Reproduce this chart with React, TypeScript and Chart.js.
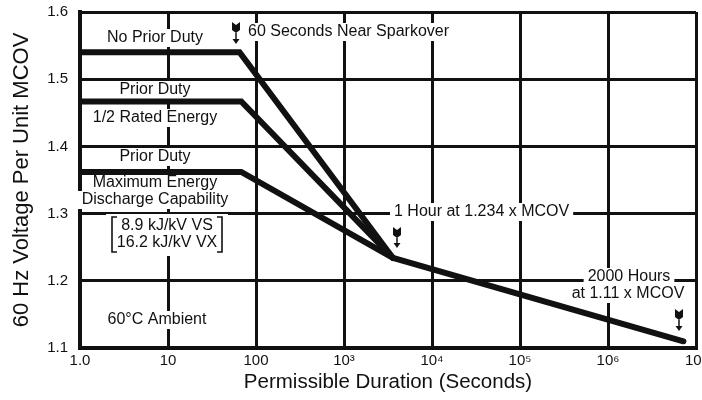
import React, { useEffect, useRef } from "react";
import { Chart, registerables } from "chart.js";

Chart.register(...registerables);

// ---- data ----
const xTickValues = [1, 10, 100, 1e3, 1e4, 1e5, 1e6, 1e7];
const xTickLabels = ["1.0", "10", "100", "10³", "10⁴", "10⁵", "10⁶", "10⁷"];
const yTickValues = [1.1, 1.2, 1.3, 1.4, 1.5, 1.6];
const yTickLabels = ["1.1", "1.2", "1.3", "1.4", "1.5", "1.6"];

const noPriorDutyX = [1, 65, 3600, 7.2e6];
const noPriorDutyY = [1.54, 1.54, 1.234, 1.11];
const halfRatedX = [1, 68, 3600];
const halfRatedY = [1.467, 1.467, 1.234];
const maxEnergyX = [1, 68, 3600];
const maxEnergyY = [1.362, 1.362, 1.234];

const FONT = "'Liberation Sans', Arial, Helvetica, sans-serif";

type Label = { text: string; x: number; y: number; align: CanvasTextAlign };
const labels: Label[] = [
  { text: "No Prior Duty", x: 155, y: 38, align: "center" },
  { text: "60 Seconds Near Sparkover", x: 248, y: 32, align: "left" },
  { text: "Prior Duty", x: 155, y: 90, align: "center" },
  { text: "1/2 Rated Energy", x: 155, y: 118, align: "center" },
  { text: "Prior Duty", x: 155, y: 157, align: "center" },
  { text: "Maximum Energy", x: 155, y: 183, align: "center" },
  { text: "Discharge Capability", x: 155, y: 200, align: "center" },
  { text: "8.9 kJ/kV VS", x: 167, y: 226, align: "center" },
  { text: "16.2 kJ/kV VX", x: 167, y: 243, align: "center" },
  { text: "60°C Ambient", x: 157, y: 320, align: "center" },
  { text: "1 Hour at 1.234 x MCOV", x: 394, y: 212, align: "left" },
  { text: "2000 Hours", x: 629, y: 277, align: "center" },
  { text: "at 1.11 x MCOV", x: 628, y: 294, align: "center" },
];
const arrows = [
  { x: 236, y0: 22, y1: 44 },
  { x: 397, y0: 227, y1: 248 },
  { x: 679, y0: 309, y1: 331 },
];

const toPoints = (xs: number[], ys: number[]) => xs.map((x, i) => ({ x, y: ys[i] }));

const annotationPlugin = {
  id: "annotations",
  beforeDatasetsDraw(chart: any) {
    const ctx: CanvasRenderingContext2D = chart.ctx;
    ctx.save();
    ctx.font = `16px ${FONT}`;
    ctx.textBaseline = "middle";
    // white boxes
    ctx.fillStyle = "#fff";
    for (const l of labels) {
      const w = ctx.measureText(l.text).width;
      let left = l.x - w / 2;
      if (l.align === "left") left = l.x;
      ctx.fillRect(left - 4, l.y - 9, w + 8, 18);
    }
    ctx.fillRect(106, 214, 122, 42);
    for (const a of arrows) ctx.fillRect(a.x - 6, a.y0 - 2, 12, a.y1 - a.y0 + 4);
    // text
    ctx.fillStyle = "#111";
    for (const l of labels) {
      ctx.textAlign = l.align;
      ctx.fillText(l.text, l.x, l.y);
    }
    // brackets
    ctx.strokeStyle = "#111";
    ctx.lineWidth = 1.6;
    ctx.beginPath();
    ctx.moveTo(117, 217); ctx.lineTo(112, 217); ctx.lineTo(112, 252); ctx.lineTo(117, 252);
    ctx.moveTo(217, 217); ctx.lineTo(222, 217); ctx.lineTo(222, 252); ctx.lineTo(217, 252);
    ctx.stroke();
    // arrow glyphs
    for (const a of arrows) {
      const { x, y0, y1 } = a;
      ctx.fillStyle = "#111";
      ctx.beginPath();
      ctx.moveTo(x - 4, y0);
      ctx.lineTo(x, y0 + 3);
      ctx.lineTo(x + 4, y0);
      ctx.lineTo(x + 4, y0 + 8);
      ctx.lineTo(x, y0 + 11);
      ctx.lineTo(x - 4, y0 + 8);
      ctx.closePath();
      ctx.fill();
      ctx.lineWidth = 1.5;
      ctx.beginPath();
      ctx.moveTo(x, y0 + 11);
      ctx.lineTo(x, y1 - 3);
      ctx.stroke();
      ctx.beginPath();
      ctx.moveTo(x - 3.5, y1 - 5);
      ctx.lineTo(x + 3.5, y1 - 5);
      ctx.lineTo(x, y1);
      ctx.closePath();
      ctx.fill();
    }
    ctx.restore();
  },
};

export default function App() {
  const ref = useRef<HTMLCanvasElement | null>(null);
  useEffect(() => {
    if (!ref.current) return;
    const lineStyle = {
      borderColor: "#111",
      backgroundColor: "#111",
      borderWidth: 6,
      pointRadius: 0,
      borderCapStyle: "round" as const,
      borderJoinStyle: "miter" as const,
      tension: 0,
      fill: false,
    };
    const chart = new Chart(ref.current, {
      type: "line",
      data: {
        datasets: [
          { label: "No Prior Duty", data: toPoints(noPriorDutyX, noPriorDutyY), ...lineStyle },
          { label: "Prior Duty 1/2 Rated Energy", data: toPoints(halfRatedX, halfRatedY), ...lineStyle },
          { label: "Prior Duty Maximum Energy", data: toPoints(maxEnergyX, maxEnergyY), ...lineStyle },
        ],
      },
      plugins: [annotationPlugin],
      options: {
        responsive: false,
        animation: false,
        devicePixelRatio: 1,
        layout: { padding: { top: 12, right: 6, left: 0, bottom: 0 } },
        plugins: { legend: { display: false }, tooltip: { enabled: false } },
        scales: {
          x: {
            type: "logarithmic",
            min: 1,
            max: 1e7,
            afterBuildTicks: (scale: any) => {
              scale.ticks = xTickValues.map((v) => ({ value: v }));
            },
            afterFit: (scale: any) => {
              scale.height = 52;
              scale.paddingLeft = 0;
              scale.paddingRight = 0;
            },
            ticks: {
              autoSkip: false,
              maxRotation: 0,
              padding: 4,
              color: "#111",
              font: { family: FONT, size: 15 },
              callback: (v: any) => {
                const i = xTickValues.indexOf(Number(v));
                return i >= 0 ? xTickLabels[i] : "";
              },
            },
            grid: { color: "#111", lineWidth: 3, drawTicks: false },
            border: { color: "#111", width: 4 },
            title: {
              display: true,
              text: "Permissible Duration (Seconds)",
              color: "#111",
              font: { family: FONT, size: 20.5 },
              padding: { top: 0, bottom: 5 },
            },
          },
          y: {
            type: "linear",
            min: 1.1,
            max: 1.6,
            afterBuildTicks: (scale: any) => {
              scale.ticks = yTickValues.map((v) => ({ value: v }));
            },
            afterFit: (scale: any) => {
              scale.width = 80;
              scale.paddingTop = 0;
              scale.paddingBottom = 0;
            },
            ticks: {
              padding: 12,
              color: "#111",
              font: { family: FONT, size: 15 },
              callback: (v: any) => {
                const i = yTickValues.findIndex((t) => Math.abs(t - Number(v)) < 1e-6);
                return i >= 0 ? yTickLabels[i] : "";
              },
            },
            grid: { color: "#111", lineWidth: 3, drawTicks: false },
            border: { color: "#111", width: 4 },
            title: {
              display: true,
              text: "60 Hz Voltage Per Unit MCOV",
              color: "#111",
              font: { family: FONT, size: 22 },
              padding: { top: 9, bottom: 0 },
            },
          },
        },
      },
    } as any);
    return () => chart.destroy();
  }, []);
  return (
    <div style={{ position: "absolute", left: 0, top: 0, width: 702, height: 400, background: "#fff" }}>
      <canvas ref={ref} width={702} height={400} style={{ display: "block" }} />
    </div>
  );
}
